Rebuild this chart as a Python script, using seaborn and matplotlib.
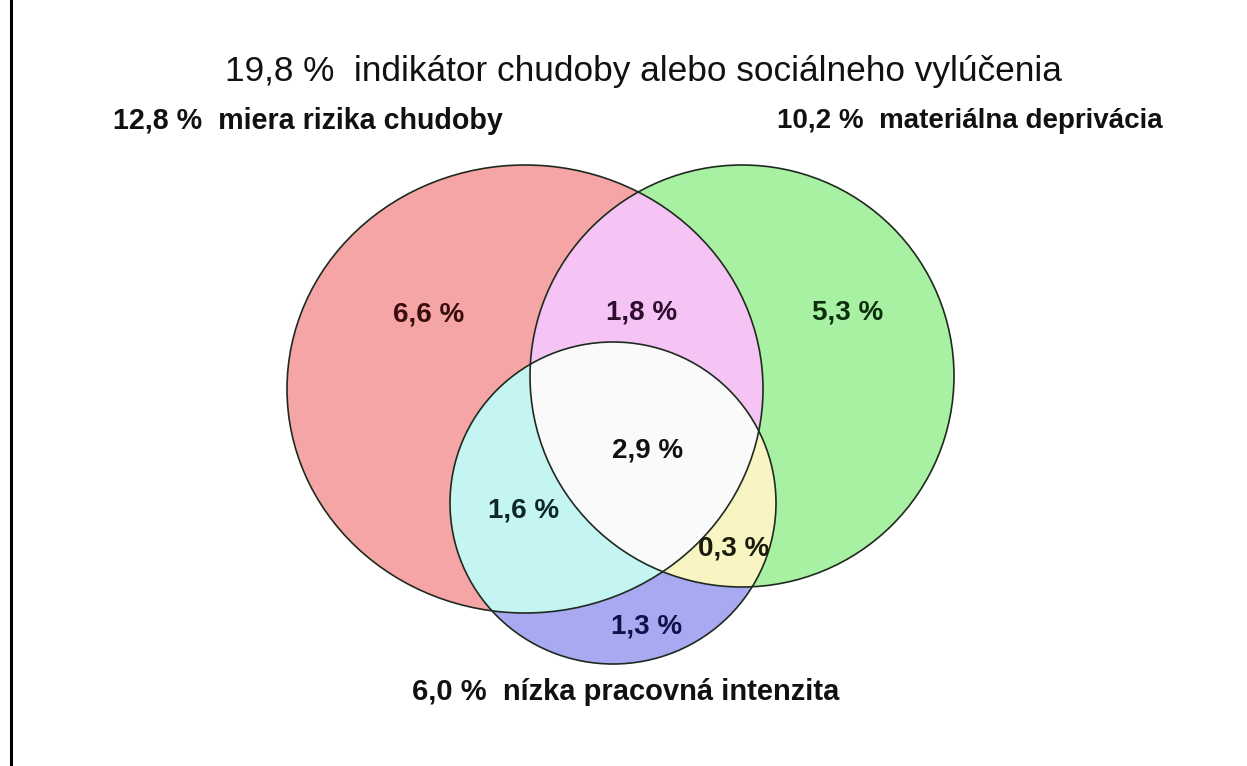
import numpy as np
import matplotlib
matplotlib.use("Agg")
import matplotlib.pyplot as plt
from matplotlib.patches import Ellipse, Polygon
import seaborn as sns

# ---- data ----
set_names = ["miera rizika chudoby", "materiálna deprivácia", "nízka pracovná intenzita"]
set_totals = ["12,8 %", "10,2 %", "6,0 %"]
overall_total = "19,8 %"
overall_name = "indikátor chudoby alebo sociálneho vylúčenia"
region_keys = ["R", "G", "B", "RG", "RB", "GB", "RGB"]
region_values = ["6,6 %", "5,3 %", "1,3 %", "1,8 %", "1,6 %", "0,3 %", "2,9 %"]

sns.set_theme(style="white")
plt.rcParams['font.family'] = ['Liberation Sans', 'DejaVu Sans']

W, H = 1247, 766
fig = plt.figure(figsize=(W / 100, H / 100), dpi=100)
ax = fig.add_axes([0, 0, 1, 1])
ax.set_xlim(0, W)
ax.set_ylim(H, 0)
ax.axis("off")

# ---- layout (ellipse geometry in pixels) ----
geom = {
    "R": (525, 389, 238, 224),
    "G": (742, 376, 212, 211),
    "B": (613, 503, 163, 161),
}
fills = {
    "R": "#F5A5A5", "G": "#A8F0A2", "B": "#A9A9F2",
    "RG": "#F5C4F5", "RB": "#C4F5F2", "GB": "#F8F5C2", "RGB": "#FAFAFA",
}
edge = "#1f2a1f"

def ell(key, fc, **kw):
    cx, cy, rx, ry = geom[key]
    return Ellipse((cx, cy), 2 * rx, 2 * ry, facecolor=fc, edgecolor="none", **kw)

def inside(key, x, y):
    cx, cy, rx, ry = geom[key]
    return ((x - cx) / rx) ** 2 + ((y - cy) / ry) ** 2 <= 1.0

def boundary(key, n=720):
    cx, cy, rx, ry = geom[key]
    t = np.linspace(0, 2 * np.pi, n, endpoint=False)
    return cx + rx * np.cos(t), cy + ry * np.sin(t)

# single-set fills
for k in ["R", "G", "B"]:
    ax.add_patch(ell(k, fills[k], zorder=1))

# pairwise intersections via clipping
pairs = [("RG", "G", "R"), ("RB", "B", "R"), ("GB", "B", "G")]
for name, a, b in pairs:
    clip = ell(b, "none", zorder=0)
    ax.add_patch(clip)
    clip.set_visible(False)
    p = ell(a, fills[name], zorder=2)
    ax.add_patch(p)
    p.set_clip_path(clip)

# triple intersection: polygon of R∩G clipped by B
xr, yr = boundary("R")
xg, yg = boundary("G")
mr = inside("G", xr, yr)
mg = inside("R", xg, yg)
px = np.concatenate([xr[mr], xg[mg]])
py = np.concatenate([yr[mr], yg[mg]])
cx0, cy0 = px.mean(), py.mean()
order = np.argsort(np.arctan2(py - cy0, px - cx0))
poly = Polygon(np.column_stack([px[order], py[order]]), closed=True,
               facecolor=fills["RGB"], edgecolor="none", zorder=3)
ax.add_patch(poly)
clipB = ell("B", "none", zorder=0)
ax.add_patch(clipB)
clipB.set_visible(False)
poly.set_clip_path(clipB)

# outlines
for k in ["R", "G", "B"]:
    cx, cy, rx, ry = geom[k]
    ax.add_patch(Ellipse((cx, cy), 2 * rx, 2 * ry, facecolor="none",
                         edgecolor=edge, lw=1.2, zorder=5))

# region labels
label_pos = {
    "R": (429, 315), "G": (848, 313), "B": (647, 627),
    "RG": (642, 313), "RB": (524, 510), "GB": (734, 548), "RGB": (648, 450),
}
label_col = {
    "R": "#3a0d0d", "G": "#0d2e0d", "B": "#10104a",
    "RG": "#2e0d2e", "RB": "#0d2626", "GB": "#1a1a0d", "RGB": "#111111",
}
for k, v in zip(region_keys, region_values):
    x, y = label_pos[k]
    ax.text(x, y, v, ha="center", va="center", fontsize=20, fontweight="bold",
            color=label_col[k], zorder=6)

# headings, fitted to target widths
fig.canvas.draw()
renderer = fig.canvas.get_renderer()

def fitted(x0, x1, y, s, weight, fs):
    t = ax.text(x0, y, s, ha="left", va="center", fontsize=fs,
                fontweight=weight, color="#111111", zorder=6)
    w = t.get_window_extent(renderer).width
    t.set_fontsize(fs * (x1 - x0) / w)
    return t

fitted(225, 1061, 72, f"{overall_total}  {overall_name}", "normal", 20)
fitted(113, 505, 121, f"{set_totals[0]}  {set_names[0]}", "bold", 15)
fitted(777, 1164, 121, f"{set_totals[1]}  {set_names[1]}", "bold", 15)
fitted(412, 840, 692, f"{set_totals[2]}  {set_names[2]}", "bold", 15)

# left frame line
ax.plot([10.5, 10.5], [0, H], color="black", lw=2.2, zorder=7)

fig.savefig("out.png", dpi=100, facecolor="white")
